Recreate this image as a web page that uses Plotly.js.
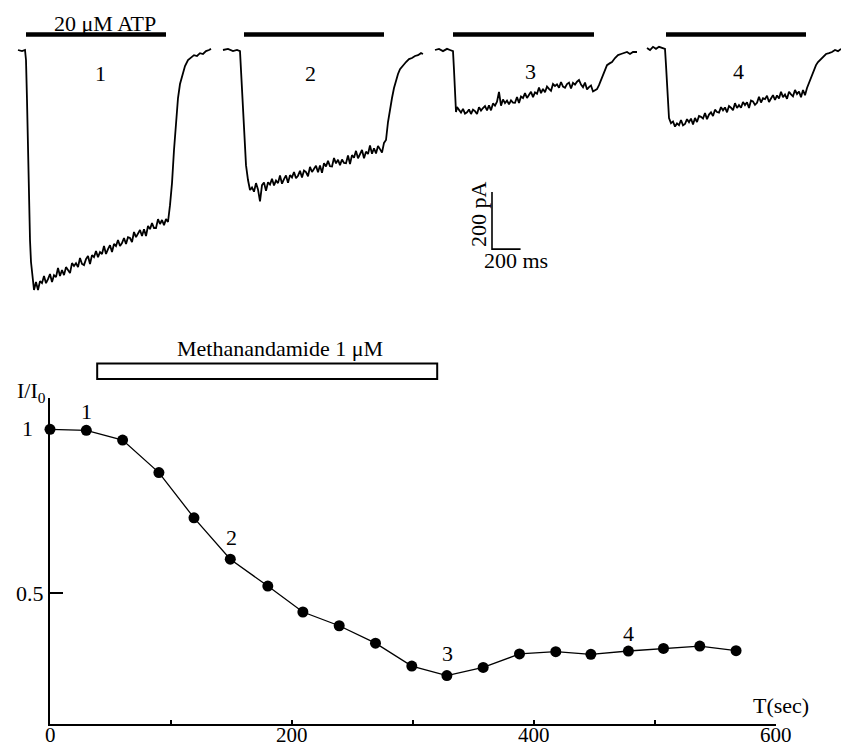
<!DOCTYPE html>
<html>
<head>
<meta charset="utf-8">
<script src="https://cdn.plot.ly/plotly-3.0.1.min.js"></script>
<style>html,body{margin:0;padding:0;background:#fff}#chart{width:841px;height:748px}</style>
</head>
<body>
<div id="chart"></div>
<script>
// ---------- DATA ----------
// Bottom panel: normalized ATP current vs time
const timeSec = [0, 30, 60, 90, 119, 149, 180, 209, 239, 269, 299, 328, 358, 388, 418, 447, 478, 507, 537, 567];
const iNorm   = [1.000, 0.997, 0.967, 0.868, 0.730, 0.604, 0.522, 0.443, 0.401, 0.348, 0.278, 0.249, 0.274, 0.315, 0.322, 0.314, 0.324, 0.332, 0.339, 0.325];
const pointLabels = ["1", "2", "3", "4"];
const drugWindowSec = [39, 320];
const drugLabel = "Methanandamide 1 μM";
const xTickVals = [0, 100, 200, 300, 400, 500, 600];
const xTickText = ["0", "", "200", "", "400", "", "600"];
const yTickVals = [0.5];
const yTickText = ["0.5"];

// Top panel: current traces (time in ms from trace start, current in pA)
const trace1Ms = [0,28,49,56,63,70,77,84,91,98,
  112,126,140,154,168,182,196,210,224,238,252,266,280,294,308,322,336,350,364,378,392,406,420,434,448,462,476,490,504,518,532,546,560,574,588,602,616,630,644,658,672,686,700,714,728,742,756,770,784,798,812,826,840,854,868,882,896,910,924,938,952,966,980,994,1008,1022,1036,1050,
  1064,1078,1092,1106,1120,1134,1148,1169,1190,1211,1232,1253,1274,1295,1316,1337,1351];
const trace1PA = [0,-4,0,-35,-175,-350,-525,-665,-742,-777,
  -840,-812,-840,-809,-816,-791,-816,-802,-784,-812,-788,-795,-763,-791,-770,-788,-760,-770,-781,-746,-756,-746,-760,-728,-749,-753,-732,-721,-749,-718,-725,-704,-725,-707,-714,-686,-714,-697,-683,-707,-679,-686,-665,-686,-676,-658,-679,-655,-658,-672,-637,-655,-641,-630,-651,-627,-651,-616,-627,-606,-623,-623,-592,-609,-595,-613,-592,-602,
  -543,-466,-350,-245,-168,-119,-91,-56,-35,-25,-18,-21,-11,-14,-4,0,4];

const trace2Ms = [0,35,70,98,119,126,133,140,154,161,175,
  189,203,217,231,245,259,273,287,301,315,329,343,357,371,385,399,413,427,441,455,469,483,497,511,525,539,553,567,581,595,609,623,637,651,665,679,693,707,721,735,749,763,777,791,805,819,833,847,861,875,889,903,917,931,945,959,973,987,1001,1015,1029,1043,1057,1071,1085,1099,1113,1127,
  1141,1155,1169,1183,1197,1211,1225,1239,1260,1281,1302,1323,1344,1365,1386,1400];
const trace2PA = [0,4,-4,0,-4,-70,-158,-245,-350,-403,-455,
  -490,-481,-496,-466,-488,-530,-473,-464,-493,-463,-471,-451,-474,-457,-466,-439,-468,-452,-439,-465,-438,-446,-427,-449,-440,-423,-446,-422,-427,-442,-409,-427,-415,-405,-428,-404,-430,-396,-408,-388,-407,-408,-378,-397,-384,-403,-383,-395,-396,-369,-399,-368,-377,-353,-379,-366,-350,-379,-356,-364,-334,-363,-344,-362,-336,-347,-359,-325,
  -315,-252,-203,-168,-133,-105,-84,-67,-53,-42,-32,-28,-21,-18,-11,-14];

const trace3Ms = [0,28,56,84,105,126,133,140,147,154,
  168,182,196,210,224,238,252,266,280,294,308,322,336,350,364,378,392,406,420,434,448,462,476,490,504,518,532,546,560,574,588,602,616,630,644,658,672,686,700,714,728,742,756,770,784,798,812,826,840,854,868,882,896,910,924,938,952,966,980,994,1008,1022,1036,1050,1064,1078,1092,1106,
  1120,1134,1148,1162,1176,1190,1204,1225,1239,1260,1281,1302,1323,1344,1365,1386,1414];
const trace3PA = [0,4,-4,4,0,-4,-70,-158,-217,-200,
  -212,-219,-206,-223,-218,-208,-224,-209,-214,-224,-200,-212,-203,-196,-211,-194,-211,-187,-195,-181,-147,-195,-173,-186,-177,-190,-176,-184,-185,-165,-185,-163,-168,-151,-168,-158,-146,-165,-148,-153,-131,-151,-136,-148,-128,-136,-143,-119,-126,-120,-132,-112,-128,-132,-119,-114,-135,-115,-121,-111,-105,-121,-130,-114,-138,-130,-124,-145,
  -140,-137,-123,-105,-88,-67,-53,-46,-42,-28,-18,-14,-11,-7,-14,-7,-7];

const trace4Ms = [0,21,42,63,84,105,126,133,140,147,154,
  168,182,196,210,224,238,252,266,280,294,308,322,336,350,364,378,392,406,420,434,448,462,476,490,504,518,532,546,560,574,588,602,616,630,644,658,672,686,700,714,728,742,756,770,784,798,812,826,840,854,868,882,896,910,924,938,952,966,980,994,1008,1022,1036,1050,1064,1078,1092,1106,
  1120,1141,1155,1169,1183,1197,1211,1232,1253,1274,1295,1316,1337,1358];
const trace4PA = [7,0,11,4,11,7,4,-53,-123,-193,-238,
  -256,-250,-268,-257,-263,-245,-264,-259,-242,-253,-240,-261,-238,-252,-231,-234,-240,-221,-242,-226,-218,-231,-209,-217,-219,-200,-211,-201,-218,-196,-202,-211,-186,-203,-193,-202,-182,-193,-183,-203,-177,-180,-192,-185,-164,-184,-169,-172,-160,-182,-170,-158,-175,-159,-170,-146,-165,-156,-171,-146,-155,-162,-140,-154,-145,-165,-140,-158,
  -133,-105,-84,-67,-53,-42,-35,-25,-14,-11,-7,0,-4,4];

const traceLabels = ["1", "2", "3", "4"];
const atpOnMs  = [56, 147, 126, 133];
const atpOffMs = [1036, 1127, 1113, 1113];
const atpLabel = "20 μM ATP";
const scaleBarMs = 200;
const scaleBarPA = 200;

// ---------- LAYOUT CONSTANTS (positions / styles) ----------
const W = 841, H = 748;
const FONT = "Liberation Serif, Times New Roman, serif";
const FS = 22;
const traceOffsetMs = [126, 1561, 3045, 4529];
const atpBarLevelPA = 54;
const scaleBarX = 3444, scaleBarY = -697;
const px = v => v / W;
const py = v => 1 - v / H;

const traces = [];
const msSets = [trace1Ms, trace2Ms, trace3Ms, trace4Ms];
const paSets = [trace1PA, trace2PA, trace3PA, trace4PA];
msSets.forEach((ms, k) => {
  traces.push({
    x: ms.map(t => t + traceOffsetMs[k]), y: paSets[k],
    xaxis: 'x2', yaxis: 'y2', mode: 'lines', type: 'scatter',
    line: {color: '#000', width: 1.8}, hoverinfo: 'skip'
  });
  traces.push({
    x: [atpOnMs[k] + traceOffsetMs[k], atpOffMs[k] + traceOffsetMs[k]],
    y: [atpBarLevelPA, atpBarLevelPA],
    xaxis: 'x2', yaxis: 'y2', mode: 'lines', type: 'scatter',
    line: {color: '#000', width: 4.5}, hoverinfo: 'skip'
  });
});
// scale bar
traces.push({
  x: [scaleBarX, scaleBarX, scaleBarX + scaleBarMs],
  y: [scaleBarY + scaleBarPA, scaleBarY, scaleBarY],
  xaxis: 'x2', yaxis: 'y2', mode: 'lines', type: 'scatter',
  line: {color: '#000', width: 1.6}, hoverinfo: 'skip'
});
// bottom panel data
traces.push({
  x: timeSec, y: iNorm, xaxis: 'x', yaxis: 'y',
  mode: 'lines+markers', type: 'scatter',
  line: {color: '#000', width: 1.3},
  marker: {color: '#000', size: 11},
  cliponaxis: false
});

const ann = (text, x, y, extra) => Object.assign({
  text: text, x: px(x), y: py(y), xref: 'paper', yref: 'paper',
  xanchor: 'center', yanchor: 'middle', showarrow: false,
  font: {family: FONT, size: FS, color: '#000'}
}, extra || {});

const annotations = [
  ann(atpLabel, 105, 23.5),
  ann(traceLabels[0], 100, 73),
  ann(traceLabels[1], 310, 74),
  ann(traceLabels[2], 530, 72),
  ann(traceLabels[3], 738, 72),
  ann(scaleBarPA + " pA", 478, 214, {textangle: -90}),
  ann(scaleBarMs + " ms", 515.5, 260),
  ann(drugLabel, 280, 348),
  ann("I/I<sub>0</sub>", 15, 392, {xanchor: 'left'}),
  ann("1", 27.5, 429),
  ann("T(sec)", 780.5, 705)
];
const lblPix = [[86, 411], [231, 537], [447, 653], [628, 633]];
pointLabels.forEach((t, i) => annotations.push(ann(t, lblPix[i][0], lblPix[i][1])));
// x tick labels (drawn close under the axis as in the reference)
xTickVals.forEach((v, i) => {
  if (xTickText[i]) annotations.push({
    text: xTickText[i], x: v, y: py(735), xref: 'x', yref: 'paper',
    xanchor: 'center', yanchor: 'middle', showarrow: false,
    height: 14, valign: 'middle', borderpad: 0,
    font: {family: FONT, size: 21, color: '#000'}
  });
});

const layout = {
  width: W, height: H,
  margin: {l: 0, r: 0, t: 0, b: 0, pad: 0},
  paper_bgcolor: '#fff', plot_bgcolor: 'rgba(0,0,0,0)',
  showlegend: false,
  font: {family: FONT, size: FS, color: '#000'},
  xaxis: {
    domain: [px(50), px(776)], range: [0, 600], anchor: 'y',
    showline: true, linecolor: '#000', linewidth: 2,
    ticks: 'inside', ticklen: 4, tickwidth: 2, tickcolor: '#000',
    tickmode: 'array', tickvals: xTickVals, showticklabels: false,
    showgrid: false, zeroline: false
  },
  yaxis: {
    domain: [py(724), py(398)], range: [0.1015, 1.0954], anchor: 'x',
    showline: true, linecolor: '#000', linewidth: 2,
    ticks: 'inside', ticklen: 13, tickwidth: 2, tickcolor: '#000',
    tickmode: 'array', tickvals: yTickVals, ticktext: yTickText,
    tickfont: {family: FONT, size: FS, color: '#000'},
    showgrid: false, zeroline: false
  },
  xaxis2: {domain: [0, 1], range: [0, 5887], anchor: 'y2', visible: false},
  yaxis2: {domain: [py(300), 1], range: [-875, 175], anchor: 'x2', visible: false},
  shapes: [{
    type: 'rect', xref: 'x', yref: 'paper',
    x0: drugWindowSec[0], x1: drugWindowSec[1], y0: py(379), y1: py(363.5),
    line: {color: '#000', width: 2}, fillcolor: '#fff'
  }],
  annotations: annotations
};

Plotly.newPlot('chart', traces, layout, {displayModeBar: false, staticPlot: true});
</script>
</body>
</html>
